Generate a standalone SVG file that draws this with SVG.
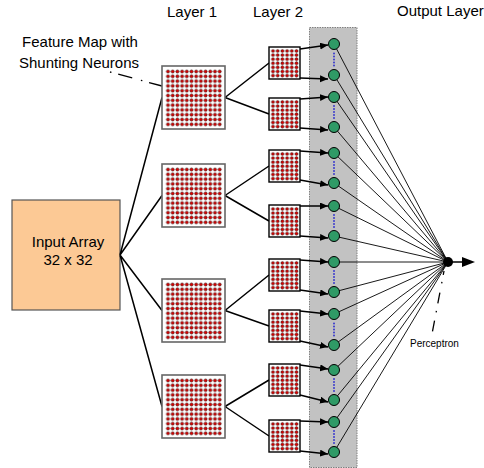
<svg xmlns="http://www.w3.org/2000/svg" xmlns:xlink="http://www.w3.org/1999/xlink" width="484" height="468" viewBox="0 0 484 468">
  <style>
    text { font-family: "Liberation Sans", Arial, sans-serif; fill: #000; }
    .lbl { font-size: 15px; }
    .small { font-size: 10px; }
    .l1box { fill: #fff; stroke: #666; stroke-width: 1.6; }
    .l2box { fill: #fff; stroke: #000; stroke-width: 1.4; }
    .dot { fill: #e00000; stroke: #200; stroke-width: 0.55; }
    .wire { stroke: #000; stroke-width: 1.5; fill: none; }
    .fan { stroke: #000; stroke-width: 0.9; fill: none; }
    .arr { stroke: #000; stroke-width: 1.5; fill: none; marker-end: url(#head); }
    .leader { stroke: #000; stroke-width: 1.3; fill: none; }
    .unit { fill: #2f9a66; stroke: #000; stroke-width: 1; }
    .ell { fill: #3a3acc; }
  </style>
  <defs>
    <marker id="head" markerUnits="userSpaceOnUse" markerWidth="9" markerHeight="8" refX="8" refY="3.5" orient="auto">
      <path d="M0,0 L8,3.5 L0,7 z" fill="#000"/>
    </marker>
    <pattern id="dots12" x="3.65" y="3.1" width="4.7" height="4.8" patternUnits="userSpaceOnUse">
      <circle cx="2.35" cy="2.4" r="1.55" class="dot"/>
    </pattern>
    <pattern id="dots6" x="1.65" y="1.95" width="4.7" height="4.1" patternUnits="userSpaceOnUse">
      <circle cx="2.35" cy="2.05" r="1.5" class="dot"/>
    </pattern>
    <!-- 12x12 shunting-neuron feature map -->
    <g id="map1">
      <rect width="63" height="63" class="l1box"/>
      <rect x="3.65" y="3.1" width="56.4" height="57.6" fill="url(#dots12)"/>
    </g>
    <!-- small layer-2 map -->
    <g id="map2">
      <rect width="31" height="32" class="l2box"/>
      <rect x="1.65" y="1.95" width="28.2" height="28.7" fill="url(#dots6)"/>
    </g>
    <!-- vertical ellipsis between paired units -->
    <g id="ellipsis" class="ell">
      <circle cx="0" cy="0" r="1"/>
      <circle cx="0" cy="3" r="1"/>
      <circle cx="0" cy="6" r="1"/>
      <circle cx="0" cy="9" r="1"/>
      <circle cx="0" cy="12" r="1"/>
    </g>
  </defs>

  <!-- headings -->
  <g id="headings" class="lbl">
    <text x="192" y="17" text-anchor="middle">Layer 1</text>
    <text x="278" y="17" text-anchor="middle">Layer 2</text>
    <text x="397" y="16">Output Layer</text>
    <text x="80" y="47" text-anchor="middle">Feature Map with</text>
    <text x="79" y="68" text-anchor="middle">Shunting Neurons</text>
  </g>

  <!-- grey band behind the output units -->
  <rect id="band" x="309.5" y="27.5" width="47.5" height="440" fill="#c2c2c2" stroke="#808080" stroke-width="1" stroke-dasharray="1.5 1"/>

  <g id="input">
    <rect x="12" y="200" width="108" height="110" fill="#fcc995" stroke="#555" stroke-width="1.2"/>
    <text class="lbl" x="68" y="247" text-anchor="middle">Input Array</text>
    <text class="lbl" x="68" y="265" text-anchor="middle">32 x 32</text>
  </g>

  <g id="connectors">
    <!-- input to layer 1 -->
    <path class="wire" d="M120,255 L162,97.5 M120,255 L162,195.5 M120,255 L162,310.5 M120,255 L162,406.5"/>
    <!-- layer 1 to layer 2 -->
    <path class="wire" d="M225,97.5 L269,63 M225,97.5 L269,114
                          M225,195.5 L269,166 M225,195.5 L269,221
                          M225,310.5 L269,275 M225,310.5 L269,326
                          M225,406.5 L269,380 M225,406.5 L269,436"/>
    <!-- layer 2 to output units -->
    <line class="arr" x1="300" y1="49" x2="328" y2="45"/>
    <line class="arr" x1="300" y1="78" x2="328" y2="79"/>
    <line class="arr" x1="300" y1="99" x2="328" y2="97"/>
    <line class="arr" x1="300" y1="128" x2="328" y2="130"/>
    <line class="arr" x1="300" y1="151" x2="328" y2="153"/>
    <line class="arr" x1="300" y1="180" x2="328" y2="185"/>
    <line class="arr" x1="300" y1="206" x2="328" y2="206"/>
    <line class="arr" x1="300" y1="236" x2="328" y2="238"/>
    <line class="arr" x1="300" y1="260" x2="328" y2="262"/>
    <line class="arr" x1="300" y1="290" x2="328" y2="294"/>
    <line class="arr" x1="300" y1="311" x2="328" y2="314"/>
    <line class="arr" x1="300" y1="341" x2="328" y2="347"/>
    <line class="arr" x1="300" y1="365" x2="328" y2="369"/>
    <line class="arr" x1="300" y1="395" x2="328" y2="402"/>
    <line class="arr" x1="300" y1="421" x2="328" y2="422"/>
    <line class="arr" x1="300" y1="451" x2="328" y2="454"/>
    <!-- output units to perceptron -->
    <path class="fan" d="M334,44 L448,262 M334,75 L448,262 M334,97 L448,262 M334,127 L448,262
                         M334,153 L448,262 M334,183 L448,262 M334,206 L448,262 M334,236 L448,262
                         M334,262 L448,262 M334,292 L448,262 M334,314 L448,262 M334,345 L448,262
                         M334,370 L448,262 M334,400 L448,262 M334,422 L448,262 M334,452 L448,262"/>
    <!-- perceptron output -->
    <line class="wire" x1="450" y1="262" x2="463" y2="262"/>
    <path d="M462,257 L475,262 L462,267 z" fill="#000"/>
    <!-- callout leaders (dash-dot) -->
    <line class="leader" x1="110" y1="72" x2="162" y2="86" stroke-dasharray="1.5 7 14.5 9"/>
    <line class="leader" x1="444" y1="271" x2="432" y2="334" stroke-dasharray="4 7 1.5 9.5 11 7.5 1.5 8.5 11"/>
  </g>

  <g id="layer1">
    <use xlink:href="#map1" href="#map1" x="162" y="66"/>
    <use xlink:href="#map1" href="#map1" x="162" y="164"/>
    <use xlink:href="#map1" href="#map1" x="162" y="279"/>
    <use xlink:href="#map1" href="#map1" x="162" y="375"/>
  </g>

  <g id="layer2">
    <use xlink:href="#map2" href="#map2" x="269" y="47"/>
    <use xlink:href="#map2" href="#map2" x="269" y="98"/>
    <use xlink:href="#map2" href="#map2" x="269" y="150"/>
    <use xlink:href="#map2" href="#map2" x="269" y="205"/>
    <use xlink:href="#map2" href="#map2" x="269" y="259"/>
    <use xlink:href="#map2" href="#map2" x="269" y="310"/>
    <use xlink:href="#map2" href="#map2" x="269" y="364"/>
    <use xlink:href="#map2" href="#map2" x="269" y="420"/>
  </g>

  <g id="output-units">
    <circle class="unit" cx="334" cy="44" r="5.5"/>
    <circle class="unit" cx="334" cy="75" r="5.5"/>
    <circle class="unit" cx="334" cy="97" r="5.5"/>
    <circle class="unit" cx="334" cy="127" r="5.5"/>
    <circle class="unit" cx="334" cy="153" r="5.5"/>
    <circle class="unit" cx="334" cy="183" r="5.5"/>
    <circle class="unit" cx="334" cy="206" r="5.5"/>
    <circle class="unit" cx="334" cy="236" r="5.5"/>
    <circle class="unit" cx="334" cy="262" r="5.5"/>
    <circle class="unit" cx="334" cy="292" r="5.5"/>
    <circle class="unit" cx="334" cy="314" r="5.5"/>
    <circle class="unit" cx="334" cy="345" r="5.5"/>
    <circle class="unit" cx="334" cy="370" r="5.5"/>
    <circle class="unit" cx="334" cy="400" r="5.5"/>
    <circle class="unit" cx="334" cy="422" r="5.5"/>
    <circle class="unit" cx="334" cy="452" r="5.5"/>
    <use xlink:href="#ellipsis" href="#ellipsis" x="334" y="53.5"/>
    <use xlink:href="#ellipsis" href="#ellipsis" x="334" y="106"/>
    <use xlink:href="#ellipsis" href="#ellipsis" x="334" y="162"/>
    <use xlink:href="#ellipsis" href="#ellipsis" x="334" y="215"/>
    <use xlink:href="#ellipsis" href="#ellipsis" x="334" y="271"/>
    <use xlink:href="#ellipsis" href="#ellipsis" x="334" y="323.5"/>
    <use xlink:href="#ellipsis" href="#ellipsis" x="334" y="379"/>
    <use xlink:href="#ellipsis" href="#ellipsis" x="334" y="431"/>
  </g>

  <g id="perceptron">
    <circle cx="448" cy="262" r="5" fill="#000"/>
    <text class="small" x="410" y="347">Perceptron</text>
  </g>
</svg>
